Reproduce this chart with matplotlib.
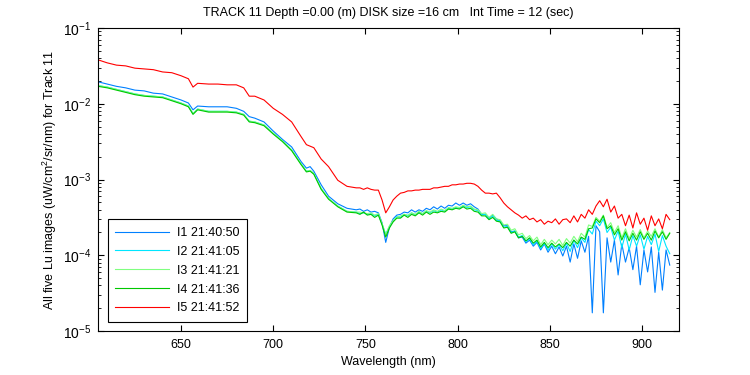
import numpy as np
import matplotlib
matplotlib.use('Agg')
import matplotlib.pyplot as plt
from matplotlib.ticker import LogLocator, NullFormatter

plt.rcParams['font.family'] = ['Liberation Sans', 'DejaVu Sans']
plt.rcParams['mathtext.fontset'] = 'custom'
plt.rcParams['mathtext.rm'] = 'Liberation Sans'
plt.rcParams['mathtext.default'] = 'regular'

# wavelengths (nm)
wavelength = [605, 610, 615, 620, 625, 630, 635, 640, 645, 650, 654, 656.5, 659,
              665, 670, 675, 680, 684, 687, 690, 695, 700, 705, 710, 715, 718, 720,
              722, 726, 730, 735, 740, 745,
              747, 749, 751, 753, 755, 757, 759, 761, 763, 765, 767, 769, 771, 773,
              775, 777, 779, 781, 783, 785, 787, 789, 791, 793, 795, 797, 799, 801,
              803, 805, 807, 809, 811, 813, 815, 817, 819, 821, 823, 825, 827, 829,
              831, 833, 835, 837, 839, 841, 843, 845, 847, 849, 851, 853, 855, 857,
              859, 861, 863, 865, 867, 869, 871, 873, 875, 877, 879, 881, 883, 885,
              887, 889, 891, 893, 895, 897, 899, 901, 903, 905, 907, 909, 911, 913, 915]

# log10 of Lu (uW/cm^2/sr/nm) for each image
log_i1 = [-1.71, -1.74, -1.77, -1.79, -1.82, -1.83, -1.86, -1.87, -1.91, -1.95, -1.99, -2.08, -2.03,
          -2.04, -2.04, -2.04, -2.06, -2.10, -2.17, -2.19, -2.24, -2.36, -2.47, -2.57, -2.76, -2.85, -2.83,
          -2.89, -3.07, -3.22, -3.32, -3.38, -3.40,
          -3.39, -3.42, -3.40, -3.43, -3.42, -3.44, -3.57, -3.83, -3.63, -3.52, -3.47, -3.46, -3.43, -3.44,
          -3.40, -3.43, -3.40, -3.42, -3.38, -3.40, -3.36, -3.39, -3.35, -3.38, -3.34, -3.35, -3.31, -3.34,
          -3.31, -3.34, -3.32, -3.36, -3.39, -3.46, -3.46, -3.51, -3.47, -3.52, -3.55, -3.61, -3.61, -3.69,
          -3.68, -3.77, -3.76, -3.84, -3.80, -3.88, -3.83, -3.93, -3.85, -3.96, -3.88, -3.98, -3.89, -4.01,
          -3.88, -4.09, -3.85, -4.04, -3.81, -3.96, -3.75, -4.76, -3.61, -3.69, -4.76, -3.77, -4.09, -3.80,
          -4.26, -3.85, -4.09, -3.90, -4.19, -3.88, -4.39, -3.93, -4.22, -3.89, -4.49, -3.96, -4.46, -3.93, -4.13]

log_i2 = [-1.76, -1.78, -1.81, -1.84, -1.87, -1.89, -1.90, -1.91, -1.95, -1.99, -2.03, -2.13, -2.07,
          -2.10, -2.10, -2.10, -2.11, -2.14, -2.23, -2.24, -2.28, -2.39, -2.49, -2.61, -2.79, -2.89, -2.88,
          -2.92, -3.12, -3.25, -3.35, -3.42, -3.43,
          -3.45, -3.44, -3.46, -3.45, -3.48, -3.46, -3.59, -3.72, -3.62, -3.55, -3.49, -3.50, -3.46, -3.48,
          -3.44, -3.47, -3.43, -3.45, -3.42, -3.44, -3.41, -3.43, -3.40, -3.42, -3.38, -3.39, -3.37, -3.38,
          -3.35, -3.37, -3.36, -3.40, -3.41, -3.47, -3.46, -3.52, -3.48, -3.54, -3.55, -3.63, -3.62, -3.70,
          -3.68, -3.76, -3.74, -3.82, -3.78, -3.86, -3.81, -3.91, -3.84, -3.93, -3.85, -3.92, -3.86, -3.94,
          -3.84, -3.95, -3.80, -3.90, -3.77, -3.83, -3.66, -3.72, -3.55, -3.61, -3.52, -3.70, -3.63, -3.80,
          -3.68, -3.90, -3.72, -3.93, -3.74, -3.88, -3.73, -3.92, -3.75, -3.86, -3.72, -3.95, -3.74, -3.88, -3.98]

log_i3 = [-1.76, -1.78, -1.81, -1.84, -1.87, -1.89, -1.90, -1.91, -1.95, -1.99, -2.03, -2.13, -2.07,
          -2.10, -2.10, -2.10, -2.11, -2.14, -2.23, -2.24, -2.28, -2.39, -2.49, -2.61, -2.79, -2.89, -2.88,
          -2.92, -3.12, -3.25, -3.35, -3.42, -3.43,
          -3.43, -3.44, -3.45, -3.44, -3.47, -3.45, -3.58, -3.73, -3.61, -3.54, -3.50, -3.48, -3.46, -3.47,
          -3.44, -3.46, -3.42, -3.45, -3.41, -3.43, -3.40, -3.42, -3.39, -3.41, -3.37, -3.38, -3.36, -3.37,
          -3.34, -3.36, -3.35, -3.39, -3.40, -3.45, -3.44, -3.50, -3.46, -3.52, -3.53, -3.60, -3.59, -3.67,
          -3.65, -3.73, -3.71, -3.78, -3.74, -3.81, -3.76, -3.86, -3.79, -3.86, -3.80, -3.85, -3.79, -3.87,
          -3.78, -3.84, -3.75, -3.82, -3.71, -3.76, -3.60, -3.62, -3.50, -3.55, -3.47, -3.63, -3.57, -3.70,
          -3.61, -3.77, -3.65, -3.78, -3.67, -3.76, -3.66, -3.77, -3.68, -3.75, -3.65, -3.76, -3.66, -3.77, -3.70]

log_i4 = [-1.77, -1.79, -1.82, -1.85, -1.88, -1.90, -1.91, -1.92, -1.96, -2.00, -2.04, -2.14, -2.08,
          -2.11, -2.11, -2.11, -2.12, -2.15, -2.24, -2.25, -2.29, -2.40, -2.50, -2.62, -2.80, -2.90, -2.89,
          -2.93, -3.13, -3.26, -3.36, -3.43, -3.44,
          -3.46, -3.43, -3.47, -3.46, -3.50, -3.47, -3.60, -3.76, -3.64, -3.56, -3.51, -3.51, -3.47, -3.50,
          -3.46, -3.48, -3.44, -3.47, -3.43, -3.46, -3.43, -3.44, -3.42, -3.43, -3.39, -3.40, -3.38, -3.39,
          -3.36, -3.39, -3.38, -3.42, -3.43, -3.48, -3.48, -3.53, -3.50, -3.55, -3.56, -3.64, -3.63, -3.71,
          -3.69, -3.77, -3.75, -3.81, -3.77, -3.84, -3.80, -3.89, -3.83, -3.90, -3.84, -3.89, -3.85, -3.90,
          -3.83, -3.88, -3.80, -3.85, -3.76, -3.79, -3.65, -3.64, -3.52, -3.57, -3.48, -3.65, -3.61, -3.73,
          -3.65, -3.80, -3.69, -3.81, -3.71, -3.80, -3.69, -3.79, -3.71, -3.80, -3.68, -3.77, -3.69, -3.79, -3.71]

log_i5 = [-1.42, -1.46, -1.49, -1.50, -1.53, -1.54, -1.55, -1.58, -1.59, -1.63, -1.67, -1.78, -1.73,
          -1.74, -1.74, -1.75, -1.75, -1.79, -1.90, -1.90, -1.95, -2.06, -2.14, -2.24, -2.43, -2.54, -2.56,
          -2.58, -2.73, -2.83, -3.01, -3.09, -3.11,
          -3.11, -3.13, -3.11, -3.13, -3.14, -3.14, -3.27, -3.44, -3.36, -3.27, -3.22, -3.18, -3.17, -3.15,
          -3.15, -3.14, -3.14, -3.13, -3.13, -3.13, -3.11, -3.11, -3.10, -3.09, -3.09, -3.07, -3.07, -3.06,
          -3.06, -3.05, -3.05, -3.06, -3.09, -3.14, -3.18, -3.18, -3.19, -3.18, -3.24, -3.31, -3.36, -3.40,
          -3.44, -3.47, -3.51, -3.48, -3.53, -3.51, -3.56, -3.53, -3.59, -3.55, -3.57, -3.52, -3.59, -3.53,
          -3.52, -3.57, -3.48, -3.56, -3.46, -3.51, -3.40, -3.46, -3.35, -3.28, -3.36, -3.26, -3.43, -3.35,
          -3.51, -3.46, -3.61, -3.47, -3.64, -3.44, -3.59, -3.51, -3.67, -3.48, -3.61, -3.52, -3.65, -3.46, -3.53]

labels = ['I1 21:40:50', 'I2 21:41:05', 'I3 21:41:21', 'I4 21:41:36', 'I5 21:41:52']
colors = ['#0080ff', '#00e6ff', '#80ff80', '#00c800', '#ff0000']

fig = plt.figure(figsize=(7.5, 3.75), dpi=100)
ax = fig.add_axes([0.1307, 0.1173, 0.7746, 0.808])

wl = np.array(wavelength)
for series, lab, col in zip([log_i1, log_i2, log_i3, log_i4, log_i5], labels, colors):
    ax.plot(wl, 10 ** np.array(series), color=col, lw=0.8, label=lab)

ax.set_yscale('log')
ax.set_xlim(605, 920)
ax.set_ylim(1e-5, 1e-1)
ax.set_xticks([650, 700, 750, 800, 850, 900])
ax.yaxis.set_major_locator(LogLocator(base=10, numticks=10))
ax.yaxis.set_minor_locator(LogLocator(base=10, subs=np.arange(2, 10), numticks=20))
ax.yaxis.set_minor_formatter(NullFormatter())

ax.tick_params(which='both', direction='in', top=True, right=True, labelsize=9)
ax.tick_params(axis='x', which='major', pad=6)
ax.tick_params(axis='y', which='major', labelsize=10, pad=5)
ax.tick_params(which='major', length=4, width=0.8)
ax.tick_params(which='minor', length=2, width=0.6)
for sp in ax.spines.values():
    sp.set_linewidth(0.8)

ax.set_xlabel('Wavelength (nm)', fontsize=9, labelpad=3)
ax.set_ylabel('All five Lu images (uW/cm$^2$/sr/nm) for Track 11', fontsize=9, labelpad=3)
ax.set_title('TRACK 11 Depth =0.00 (m) DISK size =16 cm   Int Time = 12 (sec)', fontsize=9, pad=9)

leg = ax.legend(loc='lower left', bbox_to_anchor=(0.017, 0.03), borderaxespad=0,
                fontsize=9, fancybox=False, framealpha=1, edgecolor='black',
                handlelength=4.3, handletextpad=0.6, labelspacing=0.55, borderpad=0.6)
leg.get_frame().set_linewidth(0.8)

fig.savefig('out.png', dpi=100)
